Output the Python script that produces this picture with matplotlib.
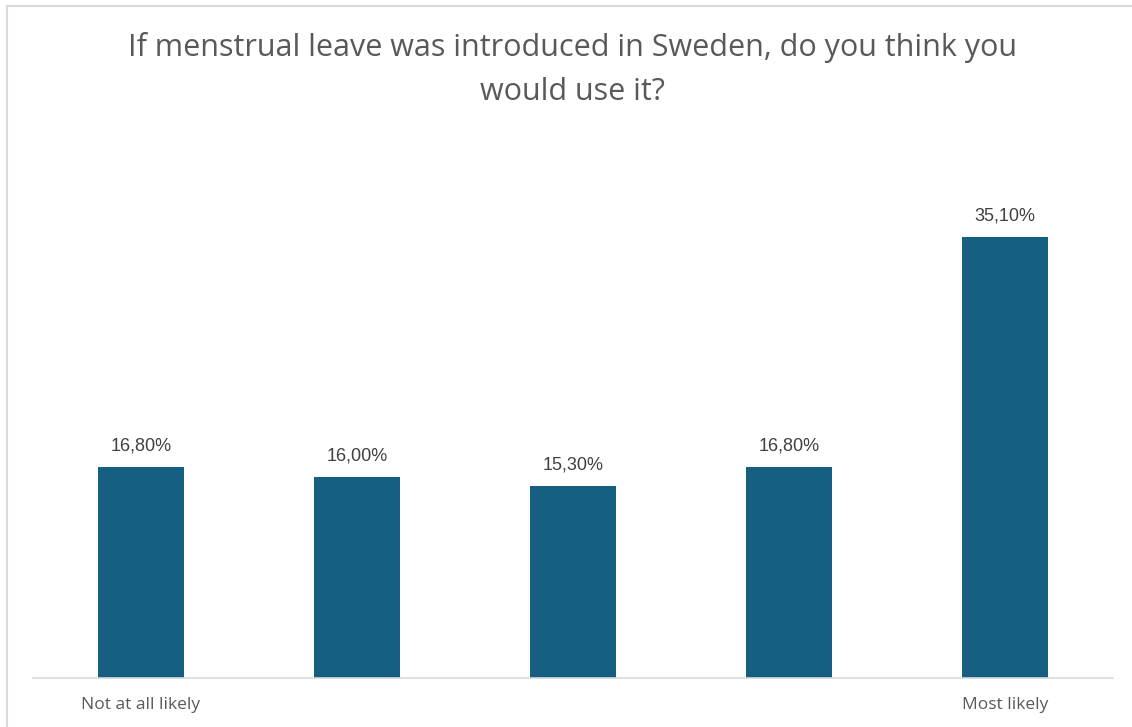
import matplotlib.pyplot as plt
from matplotlib.lines import Line2D

categories = ['Not at all likely', '', '', '', 'Most likely']
shares = [16.8, 16.0, 15.3, 16.8, 35.1]
value_labels = ['16,80%', '16,00%', '15,30%', '16,80%', '35,10%']
title = 'If menstrual leave was introduced in Sweden, do you think you\nwould use it?'

bar_color = '#156082'
text_gray = '#595959'

fig = plt.figure(figsize=(11.32, 7.27), dpi=100)
W, H = 1132, 727

# axes spans the baseline from x=33 to x=1113 px
ax = fig.add_axes([33 / W, 49 / H, 1080 / W, (678 - 176) / H])
x = list(range(len(shares)))
bars = ax.bar(x, shares, width=0.4, color=bar_color, zorder=2)
ax.set_xlim(-0.5, len(shares) - 0.5)
ax.set_ylim(0, 40)

for rect, lab in zip(bars, value_labels):
    ax.annotate(lab, (rect.get_x() + rect.get_width() / 2, rect.get_height()),
                xytext=(0, 9), textcoords='offset points', ha='center', va='bottom',
                fontsize=13, color='#404040', family='Liberation Sans')

ax.set_xticks(x)
ax.set_xticklabels(categories, fontsize=12.5, color=text_gray, family='Open Sans')
ax.tick_params(axis='x', length=0, pad=14)
ax.set_yticks([])
for side in ['top', 'right', 'left']:
    ax.spines[side].set_visible(False)
ax.spines['bottom'].set_color('#d9d9d9')
ax.spines['bottom'].set_linewidth(1.2)

fig.text(572 / W, 1 - 32 / H, title, ha='center', va='top', fontsize=22,
         color=text_gray, family='Open Sans', linespacing=1.6)

# chart frame: top and left edges only
fig.add_artist(Line2D([6.5 / W, 6.5 / W], [0, 1 - 6 / H], color='#d9d9d9', lw=1.5))
fig.add_artist(Line2D([6.5 / W, 1], [1 - 6 / H, 1 - 6 / H], color='#d9d9d9', lw=1.5))

fig.savefig('out.png', dpi=100)
